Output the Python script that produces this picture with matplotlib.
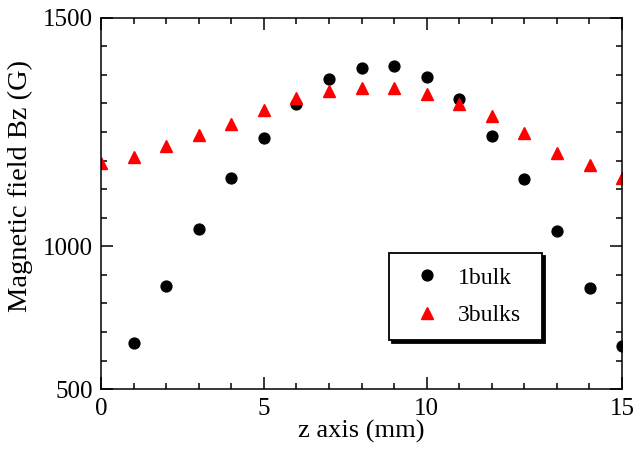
import numpy as np
import matplotlib
matplotlib.use("Agg")
import matplotlib.pyplot as plt

# Data (values read in the axis-label units)
z_1bulk = [1, 2, 3, 4, 5, 6, 7, 8, 9, 10, 10.83, 11.67, 12.5, 13.33, 14.17, 15]
bz_1bulk = [662, 862, 1038, 1149, 1236, 1311, 1365, 1389, 1393, 1369,
            1321, 1241, 1147, 1034, 855, 652]
z_3bulks = [0, 1, 2, 3, 4, 5, 6, 7, 8, 9, 10, 10.83, 11.67, 12.5, 13.33, 14.17, 15]
bz_3bulks = [1182, 1195, 1219, 1243, 1267, 1297, 1324, 1339, 1345, 1345,
             1332, 1311, 1284, 1247, 1204, 1178, 1149]
x_major = [0, 5, 10, 15]
y_major = [500, 1000, 1500]
labels = ["1bulk", "3bulks"]

# Piecewise-linear axis scales as drawn in the reference
def fx(x):
    x = np.asarray(x, dtype=float)
    return np.where(x <= 10, x, 10 + (x - 10) * 1.2)

def ix(u):
    u = np.asarray(u, dtype=float)
    return np.where(u <= 10, u, 10 + (u - 10) / 1.2)

def fy(y):
    y = np.asarray(y, dtype=float)
    return np.where(y <= 1000, y, 1000 + (y - 1000) * 1.6)

def iy(u):
    u = np.asarray(u, dtype=float)
    return np.where(u <= 1000, u, 1000 + (u - 1000) / 1.6)

plt.rcParams['font.family'] = ['Liberation Serif', 'DejaVu Serif']

fig = plt.figure(figsize=(6.33, 4.5), dpi=100)
ax = fig.add_axes([0.1596, 0.1349, 0.9826 - 0.1596, 0.9611 - 0.1349])
ax.set_xscale('function', functions=(fx, ix))
ax.set_yscale('function', functions=(fy, iy))

ax.plot(z_1bulk, bz_1bulk, linestyle='none', marker='o', ms=7.8,
        color='black', label=labels[0])
ax.plot(z_3bulks, bz_3bulks, linestyle='none', marker='^', ms=9,
        color='#ff0000', label=labels[1])

ax.set_xlim(0, 15)
ax.set_ylim(500, 1500)
ax.set_xticks(x_major)
ax.set_yticks(y_major)
ax.set_xticks(ix(np.arange(0, 17)), minor=True)
ax.set_yticks(iy(np.arange(500, 1801, 100)), minor=True)
ax.set_xticklabels([str(v) for v in x_major])
ax.set_yticklabels([str(v) for v in y_major])

ax.tick_params(which='both', direction='in', top=True, right=True,
               width=1.1, colors='black', labelsize=18)
ax.tick_params(which='major', length=8.6, pad=6)
ax.tick_params(which='minor', length=4.3)
for s in ax.spines.values():
    s.set_linewidth(1.1)

ax.set_xlabel('z axis (mm)', fontsize=19, labelpad=0)
ax.set_ylabel('Magnetic field Bz (G)', fontsize=20.5)
ax.yaxis.set_label_coords(-0.131, 0.547)

leg = ax.legend(loc='upper left', bbox_to_anchor=(0.553, 0.146, 0.2935, 0.221),
                mode='expand',
                fontsize=17, frameon=True, fancybox=False,
                shadow={'color': 'black', 'alpha': 1},
                borderpad=0.6, labelspacing=0.68, handletextpad=0.3,
                handlelength=2.03, borderaxespad=0)
leg.get_frame().set_edgecolor('black')
leg.get_frame().set_linewidth(1.3)
leg.get_frame().set_facecolor('white')

fig.savefig('out.png', dpi=100)
